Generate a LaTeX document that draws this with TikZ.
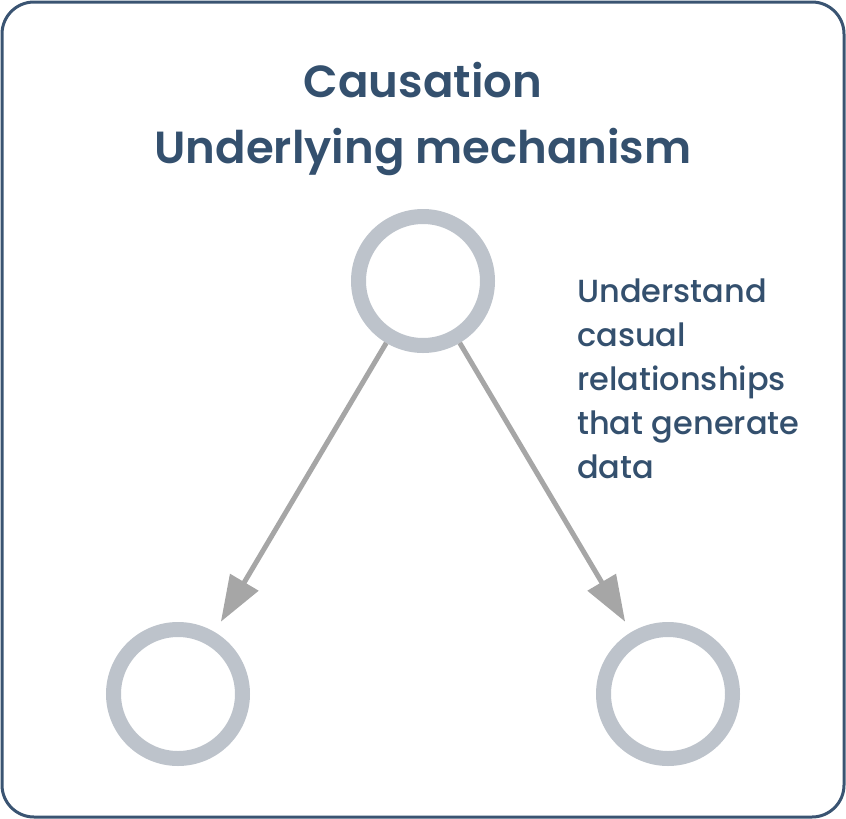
\documentclass[tikz,border=0pt]{standalone}
\usepackage{fontspec}
\setmainfont{Poppins}
\newfontfamily\popsemi{Poppins}[UprightFont=* SemiBold]
\newfontfamily\popmed{Poppins}[UprightFont=* Medium]
\usetikzlibrary{arrows.meta}
\definecolor{navy}{HTML}{34506E}
\definecolor{framec}{HTML}{3A5472}
\definecolor{ringc}{HTML}{BDC3CB}
\definecolor{arrowc}{HTML}{A6A6A6}
\tikzset{
  ring/.style={circle, draw=ringc, line width=15pt, minimum size=129pt, inner sep=0pt, fill=white},
  link/.style={draw=arrowc, line width=5pt, -{Triangle[length=46pt,width=32pt]}, shorten >=12pt},
}
\begin{document}
\begin{tikzpicture}[x=1pt,y=-1pt]
\useasboundingbox (0,0) rectangle (846,819);
\draw[framec, line width=3pt, rounded corners=32pt] (2,2) rectangle (844,817);
\node[font=\fontsize{45}{66}\popsemi, text=navy, align=center, anchor=base] (title) at (423,163) {Causation\\Underlying mechanism};
\node[ring] (top) at (423,281) {};
\node[ring] (bl) at (178,694) {};
\node[ring] (br) at (668,694) {};
\draw[link] (top) -- (bl);
\draw[link] (top) -- (br);
\node[font=\fontsize{32}{44}\popmed, text=navy, align=left, anchor=base west, inner sep=0pt] (note) at (577,478) {Understand\\casual\\relationships\\that generate\\data};
\end{tikzpicture}
\end{document}
